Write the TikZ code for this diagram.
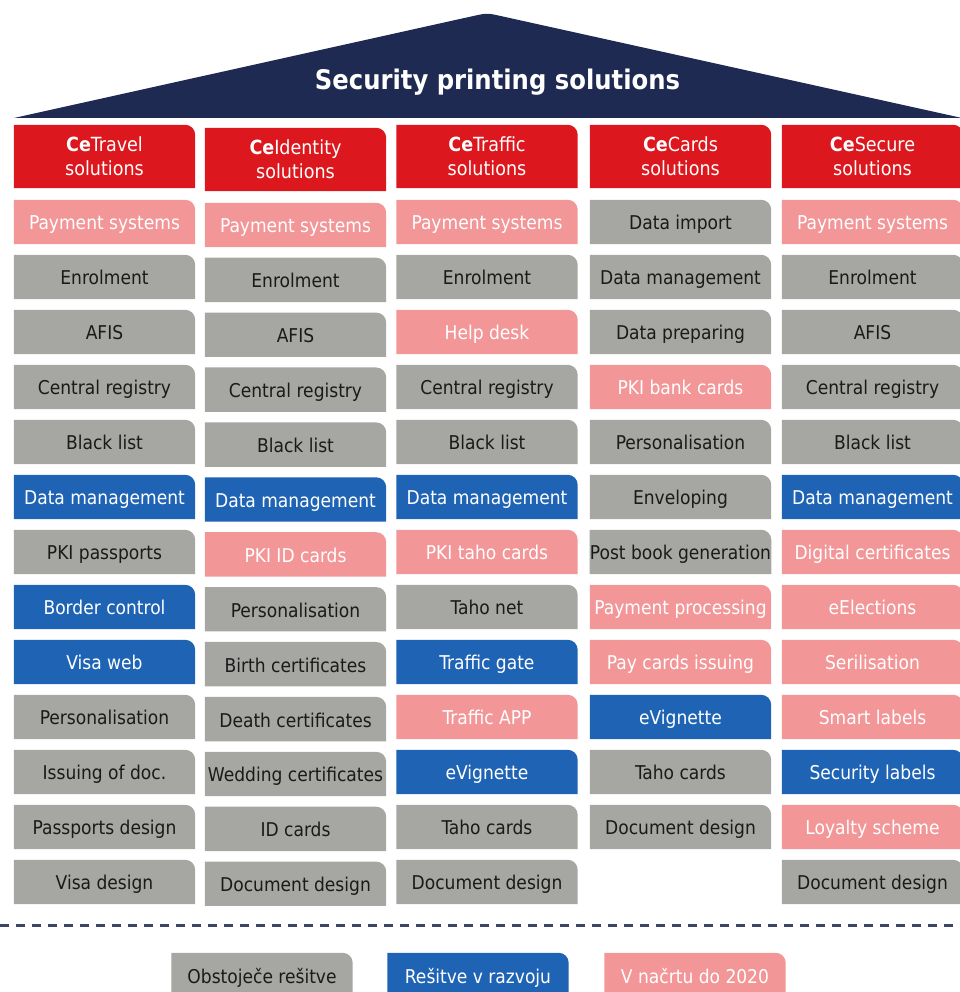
\documentclass[tikz,border=0pt]{standalone}
\usepackage{fontspec}
\setmainfont{DejaVu Sans Condensed}
\usetikzlibrary{backgrounds}
\definecolor{roofnavy}{HTML}{1E2A52}
\definecolor{colheadfill}{HTML}{DC171D}
\definecolor{existingfill}{HTML}{A6A6A3}
\definecolor{developingfill}{HTML}{1F64B4}
\definecolor{plannedfill}{HTML}{F29698}
\definecolor{darktext}{HTML}{1A1A1A}
\definecolor{dashnavy}{HTML}{3C4468}

% one box, square apart from its top right corner
\newcommand{\cellbox}[5]{%
  \node[cell,#4] (#1) at ({#2},{#3}) {#5};
  \begin{scope}[on background layer]
    \fill[#4fill] (#1.south west) -- (#1.north west)
      -- ([xshift=-10pt]#1.north east) arc[start angle=90,end angle=0,radius=10pt]
      -- (#1.south east) -- cycle;
  \end{scope}}

\begin{document}
\begin{tikzpicture}[x=1pt,y=1pt]
  \tikzset{
    cell/.style={minimum width=181pt,minimum height=44pt,inner sep=0pt,
      font=\fontsize{19}{22}\selectfont},
    item/.style={text height=16pt,text depth=0pt},
    existing/.style={item,text=darktext},
    developing/.style={item,text=white},
    planned/.style={item,text=white},
    colhead/.style={minimum height=63pt,align=center,text=white,
      font=\fontsize{19.5}{24}\selectfont},
    title/.style={font=\bfseries\fontsize{27}{32}\selectfont,text=white},
    dashline/.style={dashnavy,line width=3pt,dash pattern=on 9pt off 7pt},
  }
  \useasboundingbox (0,0) rectangle (959,992);

  % Roof with the title.
  \fill[roofnavy] (14,874) -- (473,975.9) .. controls (487,979) .. (501,975.9)
    -- (962,874) -- cycle;
  \node[title,anchor=base] (title) at (497.5,902) {Security printing solutions};

  % Column heads.
  \cellbox{hd1}{104.5}{835.5}{colhead}{\textbf{Ce}Travel\\solutions}
  \cellbox{hd2}{295.5}{832.5}{colhead}{\textbf{Ce}Identity\\solutions}
  \cellbox{hd3}{487}{835.5}{colhead}{\textbf{Ce}Traffic\\solutions}
  \cellbox{hd4}{680.5}{835.5}{colhead}{\textbf{Ce}Cards\\solutions}
  \cellbox{hd5}{872.5}{835.5}{colhead}{\textbf{Ce}Secure\\solutions}

  % CeTravel
  \foreach \txt/\kind [count=\i] in {Payment systems/planned,Enrolment/existing,
      AFIS/existing,Central registry/existing,Black list/existing,
      Data management/developing,PKI passports/existing,Border control/developing,
      Visa web/developing,Personalisation/existing,Issuing of doc./existing,
      Passports design/existing,Visa design/existing} {
    \pgfmathsetmacro\yy{770-55*(\i-1)}
    \edef\cellcmd{\noexpand\cellbox{tr\i}{104.5}{\yy}{\kind}{\txt}}\cellcmd
  }

  % CeIdentity
  \foreach \txt/\kind [count=\i] in {Payment systems/planned,Enrolment/existing,
      AFIS/existing,Central registry/existing,Black list/existing,
      Data management/developing,PKI ID cards/planned,Personalisation/existing,
      Birth certificates/existing,Death certificates/existing,
      Wedding certificates/existing,ID cards/existing,Document design/existing} {
    \pgfmathsetmacro\yy{767-54.9*(\i-1)}
    \edef\cellcmd{\noexpand\cellbox{id\i}{295.5}{\yy}{\kind}{\txt}}\cellcmd
  }

  % CeTraffic
  \foreach \txt/\kind [count=\i] in {Payment systems/planned,Enrolment/existing,
      Help desk/planned,Central registry/existing,Black list/existing,
      Data management/developing,PKI taho cards/planned,Taho net/existing,
      Traffic gate/developing,Traffic APP/planned,eVignette/developing,
      Taho cards/existing,Document design/existing} {
    \pgfmathsetmacro\yy{770-55*(\i-1)}
    \edef\cellcmd{\noexpand\cellbox{tf\i}{487}{\yy}{\kind}{\txt}}\cellcmd
  }

  % CeCards
  \foreach \txt/\kind [count=\i] in {Data import/existing,Data management/existing,
      Data preparing/existing,PKI bank cards/planned,Personalisation/existing,
      Enveloping/existing,Post book generation/existing,
      Payment processing/planned,Pay cards issuing/planned,eVignette/developing,
      Taho cards/existing,Document design/existing} {
    \pgfmathsetmacro\yy{770-55*(\i-1)}
    \edef\cellcmd{\noexpand\cellbox{cd\i}{680.5}{\yy}{\kind}{\txt}}\cellcmd
  }

  % CeSecure
  \foreach \txt/\kind [count=\i] in {Payment systems/planned,Enrolment/existing,
      AFIS/existing,Central registry/existing,Black list/existing,
      Data management/developing,Digital certificates/planned,eElections/planned,
      Serilisation/planned,Smart labels/planned,Security labels/developing,
      Loyalty scheme/planned,Document design/existing} {
    \pgfmathsetmacro\yy{770-55*(\i-1)}
    \edef\cellcmd{\noexpand\cellbox{sc\i}{872.5}{\yy}{\kind}{\txt}}\cellcmd
  }

  % Legend below the dashed rule.
  \draw[dashline] (0,66) -- (959,66);
  \cellbox{lg1}{262}{17}{existing}{Obstoječe rešitve}
  \cellbox{lg2}{478}{17}{developing}{Rešitve v razvoju}
  \cellbox{lg3}{695}{17}{planned}{V načrtu do 2020}
\end{tikzpicture}
\end{document}
